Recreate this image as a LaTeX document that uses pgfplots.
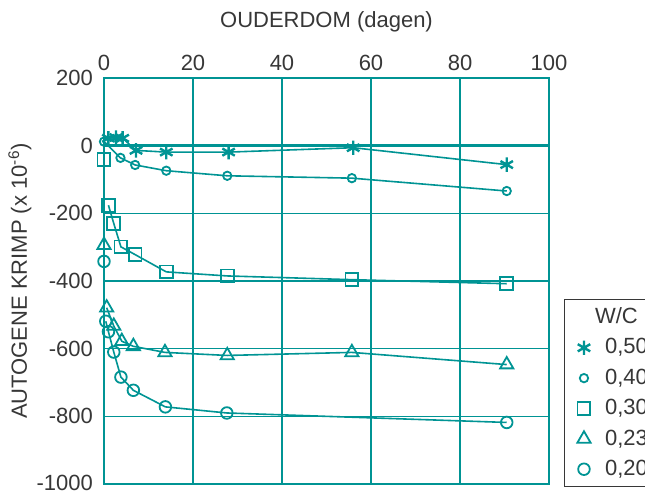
\documentclass[border=0pt]{standalone}
\usepackage{pgfplots}
\pgfplotsset{compat=1.18}
\usepackage{fontspec}
\setmainfont{Liberation Sans}
\definecolor{teal1}{RGB}{0,148,148}
\definecolor{txt}{RGB}{55,55,55}
\begin{document}
\begin{tikzpicture}[font=\fontsize{11}{13}\selectfont]
\begin{axis}[
 scale only axis, width=222.5pt, height=203pt,
 xmin=0, xmax=100, ymin=-1000, ymax=200,
 xtick={0,20,...,100}, ytick={-1000,-800,...,200},
 yticklabels={\raisebox{1.5pt}{-1000},-800,-600,-400,-200,0,200},
 xticklabel pos=right,
 major tick length=0pt,
 grid=major,
 major grid style={teal1, line width=0.7pt},
 axis line style={teal1, line width=0.8pt},
 tick label style={text=txt},
 /pgf/number format/assume math mode=true,
 xlabel={OUDERDOM (dagen)},
 xlabel style={at={(axis description cs:0.5,1.138)}, anchor=center, text=txt},
 ylabel={AUTOGENE KRIMP (x 10\textsuperscript{-6})},
 ylabel style={at={(axis description cs:-0.189,0.5)}, anchor=center, text=txt},
 yticklabel style={xshift=-2pt},
 clip=false,
 every axis plot/.append style={teal1, line width=0.8pt, mark options={solid, line width=0.9pt}},
 legend style={at={(axis cs:103.37,-453.3)}, anchor=north west, draw=txt, line width=0.6pt,
   text=txt, row sep=2pt, inner xsep=4pt, inner ysep=2pt},
 legend cell align=left,
 legend image code/.code={\path[draw=none,fill=none] (0cm,-0.05cm) rectangle (0.5cm,0.05cm);\draw[#1, only marks] plot coordinates {(0.2cm,0cm)};},
]
\addlegendimage{empty legend}
\addlegendentry{\hspace*{-5pt}W/C}
\draw[teal1, line width=1.4pt] (axis cs:0,0) -- (axis cs:100,0);
% isolated day-0 points
\addplot[only marks, mark=square, mark size=3.2pt, forget plot] coordinates {(0,-41)};
\addplot[only marks, mark=triangle, mark size=3.8pt, forget plot] coordinates {(0,-294)};
\addplot[only marks, mark=o, mark size=2.9pt, forget plot] coordinates {(0,-342)};
% 0,50
\addplot[mark=asterisk, mark size=3.6pt, mark options={line width=1.2pt}] coordinates {
 (1,22) (2.7,24) (4.2,22) (7.2,-14) (14,-19) (28,-19) (56,-6) (90.5,-56)};
\addlegendentry{0,50}
% 0,40
\addplot[mark=o, mark size=2.1pt] coordinates {
 (0,12) (3.7,-36) (7,-57) (14,-74) (27.7,-89) (55.7,-96) (90.5,-134)};
\addlegendentry{0,40}
% 0,30
\addplot[mark=square, mark size=3.2pt] coordinates {
 (1,-176) (2.2,-230) (3.8,-299) (7,-322) (14,-373) (27.7,-385) (55.7,-396) (90.5,-408)};
\addlegendentry{0,30}
% 0,23
\addplot[mark=triangle, mark size=3.8pt] coordinates {
 (0.6,-479) (2.2,-533) (4,-578) (6.6,-593) (13.7,-611) (27.7,-620) (55.7,-611) (90.5,-647)};
\addlegendentry{0,23}
% 0,20
\addplot[mark=o, mark size=2.9pt] coordinates {
 (0.4,-519) (1,-550) (2.2,-610) (3.8,-684) (6.6,-723) (13.8,-772) (27.6,-790) (90.5,-818)};
\addlegendentry{0,20}
\coordinate (BL) at (axis cs:-23.37,-1023.6);
\coordinate (TR) at (axis cs:121.57,430.6);
\end{axis}
\pgfresetboundingbox
\path[use as bounding box] (BL) rectangle (TR);
\end{tikzpicture}
\end{document}
